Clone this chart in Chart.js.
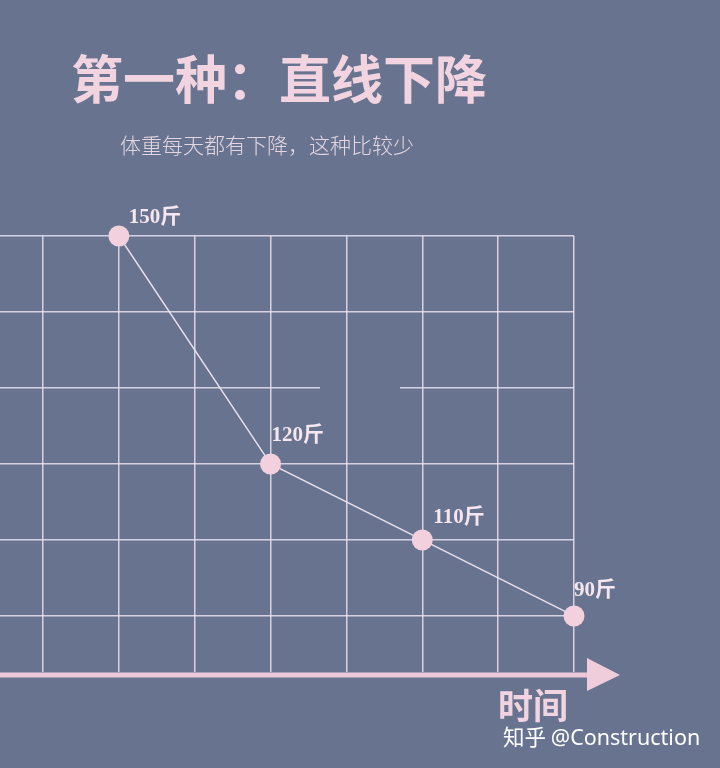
<!DOCTYPE html>
<html>
<head>
<meta charset="utf-8">
<script src="https://cdn.jsdelivr.net/npm/chart.js@4.4.1/dist/chart.umd.min.js"></script>
<style>
  html, body { margin: 0; padding: 0; background: #68748f; }
  #wrap { position: relative; width: 720px; height: 768px; overflow: hidden; }
  #c { position: absolute; left: 0; top: 0; }
  .txt { position: absolute; white-space: nowrap; font-family: "Noto Sans CJK SC", sans-serif; line-height: 1; }
  #title { left: 71px; top: 51px; font-size: 52px; font-weight: 700; color: #f1d4e0; }
  #sub { left: 120px; top: 134px; font-size: 21px; font-weight: 300; color: #e3d6e2; }
  #axisName { left: 498px; top: 686px; font-size: 35px; font-weight: 700; color: #f1d4e0; }
  #mark { left: 503px; top: 725px; font-size: 21.5px; color: #ffffff; }
  #mark span { font-family: "Noto Sans", sans-serif; }
</style>
</head>
<body>
<div id="wrap">
  <canvas id="c" width="720" height="768"></canvas>
  <div class="txt" id="title">第一种：直线下降</div>
  <div class="txt" id="sub">体重每天都有下降，这种比较少</div>
  <div class="txt" id="axisName">时间</div>
  <div class="txt" id="mark">知乎 <span>@Construction</span></div>
</div>
<script>
// values
const weights = [150, 120, 110, 90];          // 斤
const dayColumn = [1, 3, 5, 7];               // grid column of each point
const gridRow = [5, 2, 1, 0];                 // grid row of each point (drawing is not to scale)
const pointLabels = weights.map(w => w + '斤');

const gridColor = 'rgba(236,226,240,0.85)';
const pink = '#f2d0dd';

// text next to every point
const labelPlugin = {
  id: 'pointLabels',
  afterDatasetsDraw(chart, args, opts) {
    const ctx = chart.ctx;
    const meta = chart.getDatasetMeta(0);
    ctx.save();
    ctx.font = 'bold 21px "Liberation Serif", "Noto Sans CJK SC", serif';
    ctx.fillStyle = '#f5e6ef';
    ctx.textBaseline = 'middle';
    ctx.textAlign = 'left';
    meta.data.forEach((pt, i) => {
      const off = opts.offsets[i];
      ctx.fillText(pointLabels[i], pt.x + off[0], pt.y + off[1]);
    });
    ctx.restore();
  }
};

// time axis with an arrow head
const arrowPlugin = {
  id: 'timeArrow',
  afterDraw(chart) {
    const { ctx, chartArea } = chart;
    const y = chartArea.bottom + 3;
    ctx.save();
    ctx.strokeStyle = '#ecc9d8';
    ctx.lineWidth = 5;
    ctx.beginPath();
    ctx.moveTo(0, y);
    ctx.lineTo(chartArea.right + 15, y);
    ctx.stroke();
    ctx.fillStyle = '#efcddb';
    ctx.beginPath();
    ctx.moveTo(chartArea.right + 13, y - 17);
    ctx.lineTo(chartArea.right + 46, y);
    ctx.lineTo(chartArea.right + 13, y + 16);
    ctx.closePath();
    ctx.fill();
    ctx.restore();
  }
};

const intTicks = (from, to) => axis => {
  const t = [];
  for (let v = from; v <= to; v++) t.push({ value: v });
  axis.ticks = t;
};

new Chart(document.getElementById('c'), {
  type: 'line',
  data: {
    datasets: [{
      data: dayColumn.map((x, i) => ({ x: x, y: gridRow[i] })),
      borderColor: 'rgba(240,230,242,0.95)',
      borderWidth: 1.4,
      pointRadius: 10.5,
      pointBackgroundColor: pink,
      pointBorderWidth: 0,
      pointHoverRadius: 10.5,
      clip: false,
      tension: 0
    }]
  },
  options: {
    responsive: false,
    animation: false,
    events: [],
    layout: { autoPadding: false, padding: { left: 0, top: 236, right: 146, bottom: 96 } },
    plugins: {
      legend: { display: false },
      tooltip: { enabled: false },
      pointLabels: { offsets: [[10, -18], [1, -28], [11, -22], [0, -25]] }
    },
    scales: {
      x: {
        type: 'linear',
        min: -0.567,
        max: 7,
        afterBuildTicks: intTicks(0, 7),
        ticks: { display: false },
        border: { display: false },
        grid: { color: gridColor, lineWidth: 1.5, drawTicks: false }
      },
      y: {
        type: 'linear',
        min: -0.737,
        max: 5,
        afterBuildTicks: intTicks(0, 5),
        ticks: { display: false },
        // the third line up has a short break in the picture
        border: { display: false, dash: c => (c.tick && c.tick.value === 3) ? [320, 80, 1000, 0] : [] },
        grid: { color: gridColor, lineWidth: 1.5, drawTicks: false }
      }
    }
  },
  plugins: [labelPlugin, arrowPlugin]
});
</script>
</body>
</html>
